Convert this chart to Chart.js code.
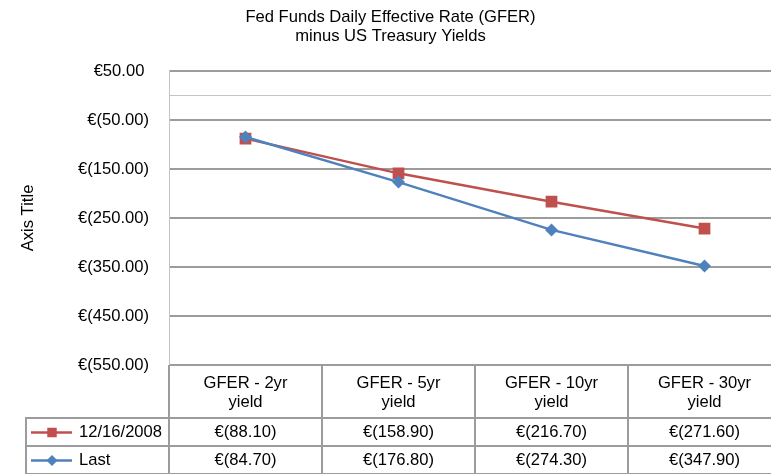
<!DOCTYPE html>
<html>
<head>
<meta charset="utf-8">
<script src="https://cdn.jsdelivr.net/npm/chart.js@4/dist/chart.umd.min.js"></script>
<style>
  html, body { margin: 0; padding: 0; background: #fff; }
  #wrap { width: 771px; height: 474px; overflow: hidden; position: relative; }
  canvas { display: block; }
</style>
</head>
<body>
<div id="wrap"><canvas id="c" width="786" height="474" style="width:786px;height:474px"></canvas></div>
<script>
// ---- data ----
const titleLines = ["Fed Funds Daily Effective Rate (GFER)", "minus US Treasury Yields"];
const categories = [["GFER - 2yr", "yield"], ["GFER - 5yr", "yield"], ["GFER - 10yr", "yield"], ["GFER - 30yr", "yield"]];
const seriesNames = ["12/16/2008", "Last"];
const seriesDec2008 = [-88.10, -158.90, -216.70, -271.60];
const seriesLast = [-84.70, -176.80, -274.30, -347.90];
const yTickValues = [50, -50, -150, -250, -350, -450, -550];
const yAxisTitle = "Axis Title";

const FONT = '"Liberation Sans", Arial, sans-serif';
const FS = 16.6;
const RED = '#C0504D';
const BLUE = '#4F81BD';
const GRID = '#9c9c9c';

function fmtEuro(v) {
  if (v < 0) return '€(' + Math.abs(v).toFixed(2) + ')';
  return '€' + v.toFixed(2) + ' ';
}

function drawMarker(ctx, shape, x, y, s, color) {
  ctx.save();
  ctx.fillStyle = color;
  ctx.beginPath();
  if (shape === 'rect') {
    ctx.rect(x - s / 2, y - s / 2, s, s);
  } else {
    ctx.moveTo(x - s / 2, y); ctx.lineTo(x, y - s / 2);
    ctx.lineTo(x + s / 2, y); ctx.lineTo(x, y + s / 2);
    ctx.closePath();
  }
  ctx.fill();
  ctx.restore();
}

const tableRows = [
  { name: seriesNames[0], values: seriesDec2008, color: RED, shape: 'rect', size: 9.5 },
  { name: seriesNames[1], values: seriesLast, color: BLUE, shape: 'diamond', size: 9 }
];

const tablePlugin = {
  id: 'dataTable',
  beforeDatasetsDraw(chart) {
    const { ctx, chartArea, scales } = chart;
    const y0 = scales.y.getPixelForValue(0);
    ctx.save();
    ctx.strokeStyle = '#c4c4c4';
    ctx.lineWidth = 1;
    ctx.beginPath();
    ctx.moveTo(chartArea.left, Math.round(y0) + 0.5);
    ctx.lineTo(chartArea.right, Math.round(y0) + 0.5);
    ctx.stroke();
    ctx.restore();
  },
  afterDraw(chart) {
    const { ctx, chartArea, scales } = chart;
    const xs = scales.x;
    const n = categories.length;
    const half = (xs.getPixelForValue(1) - xs.getPixelForValue(0)) / 2;
    const top = chartArea.bottom;
    const rowH = 28;
    const r1 = 418, r2 = r1 + rowH, r3 = r2 + rowH;
    const legendLeft = 26;
    ctx.save();
    ctx.strokeStyle = GRID;
    ctx.lineWidth = 2;
    // vertical separators
    for (let i = 0; i <= n; i++) {
      const bx = Math.round(xs.getPixelForValue(0) - half + i * 2 * half);
      ctx.beginPath();
      ctx.moveTo(bx, top);
      ctx.lineTo(bx, r3 + 2);
      ctx.stroke();
    }
    // legend column left border
    ctx.beginPath();
    ctx.moveTo(legendLeft, r1);
    ctx.lineTo(legendLeft, r3 + 2);
    ctx.stroke();
    // horizontal row lines
    [r1, r2, r3].forEach(yy => {
      ctx.beginPath();
      ctx.moveTo(legendLeft - 1, yy);
      ctx.lineTo(chart.width, yy);
      ctx.stroke();
    });
    // rows
    ctx.font = FS + 'px ' + FONT;
    ctx.fillStyle = '#000';
    ctx.textBaseline = 'middle';
    tableRows.forEach((row, ri) => {
      const cy = (ri === 0 ? (r1 + r2) / 2 : (r2 + r3) / 2) + 0.5;
      // legend key
      ctx.strokeStyle = row.color;
      ctx.lineWidth = 2.5;
      ctx.beginPath();
      ctx.moveTo(31, cy);
      ctx.lineTo(72, cy);
      ctx.stroke();
      drawMarker(ctx, row.shape, 52, cy, row.size + (row.shape === 'diamond' ? 2 : 0), row.color);
      ctx.fillStyle = '#000';
      ctx.textAlign = 'left';
      ctx.fillText(row.name, 79, cy);
      ctx.textAlign = 'center';
      row.values.forEach((v, i) => {
        ctx.fillText(fmtEuro(v), xs.getPixelForValue(i), cy);
      });
    });
    ctx.restore();
  }
};

new Chart(document.getElementById('c'), {
  type: 'line',
  data: {
    labels: categories,
    datasets: [
      {
        label: seriesNames[0],
        data: seriesDec2008,
        borderColor: RED,
        backgroundColor: RED,
        borderWidth: 2.5,
        pointStyle: 'rect',
        pointRadius: 8.3,
        pointHoverRadius: 8.3,
        pointBorderWidth: 0,
        tension: 0,
        order: 1
      },
      {
        label: seriesNames[1],
        data: seriesLast,
        borderColor: BLUE,
        backgroundColor: BLUE,
        borderWidth: 2.5,
        pointStyle: 'rectRot',
        pointRadius: 6.5,
        pointHoverRadius: 6.5,
        pointBorderWidth: 0,
        tension: 0,
        order: 0
      }
    ]
  },
  options: {
    responsive: false,
    animation: false,
    devicePixelRatio: 1,
    layout: { autoPadding: false, padding: { left: 0, right: 5, top: 0, bottom: 0 } },
    plugins: {
      legend: { display: false },
      tooltip: { enabled: false },
      title: {
        display: true,
        text: titleLines,
        color: '#000',
        font: { family: FONT, size: FS, weight: 'normal', lineHeight: 1.15 },
        padding: { top: 8, bottom: 24.8 }
      }
    },
    scales: {
      x: {
        type: 'category',
        offset: true,
        grid: { display: false, drawTicks: false, offset: true },
        border: { display: false },
        ticks: {
          color: '#000',
          padding: 9,
          maxRotation: 0,
          autoSkip: false,
          font: { family: FONT, size: FS, lineHeight: 1.15 }
        },
        afterFit(scale) {
          scale.height = 109;
        }
      },
      y: {
        min: -550,
        max: 50,
        afterBuildTicks(scale) { scale.ticks = yTickValues.map(v => ({ value: v })); },
        grid: { color: GRID, lineWidth: 2, drawTicks: false },
        border: { display: true, color: '#c4c4c4', width: 1 },
        ticks: {
          color: '#000',
          padding: 20,
          font: { family: FONT, size: FS },
          callback: (v) => fmtEuro(v)
        },
        title: {
          display: true,
          text: yAxisTitle,
          color: '#000',
          font: { family: FONT, size: FS, lineHeight: 1.15 },
          padding: { top: 18.5, bottom: 0 }
        },
        afterFit(scale) {
          scale.width = 169;
        }
      }
    }
  },
  plugins: [tablePlugin]
});
</script>
</body>
</html>
